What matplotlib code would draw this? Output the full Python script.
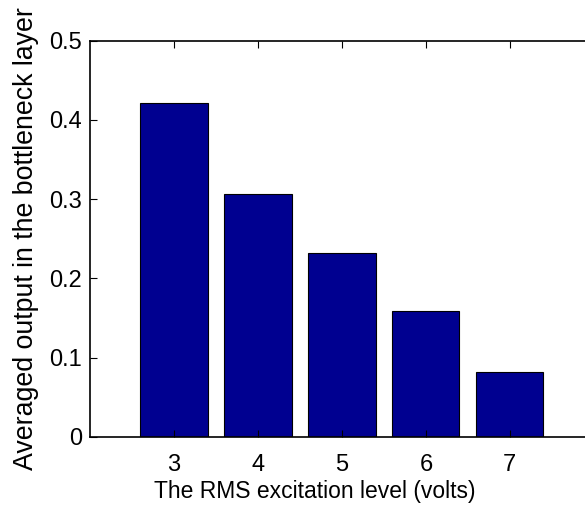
import matplotlib
matplotlib.use("Agg")
import matplotlib.pyplot as plt

levels = [3, 4, 5, 6, 7]
outputs = [0.421, 0.307, 0.232, 0.159, 0.082]
yticks = [0, 0.1, 0.2, 0.3, 0.4, 0.5]
ytick_labels = ["0", "0.1", "0.2", "0.3", "0.4", "0.5"]

plt.rcParams["font.family"] = ["Liberation Sans", "DejaVu Sans"]

fig = plt.figure(figsize=(5.85, 5.08), dpi=100)
# the axes run a little past the right edge, as in the cropped original
ax = fig.add_axes([0.154, 0.14, 0.861, 0.78])
ax.bar(levels, outputs, width=0.8, color="#000090", edgecolor="black", linewidth=0.8)
ax.set_xlim(2, 8)
ax.set_ylim(0, 0.5)
ax.set_xticks(levels)
ax.set_yticks(yticks)
ax.set_yticklabels(ytick_labels)
ax.tick_params(direction="in", length=5, labelsize=17, top=True, right=False)
ax.tick_params(axis="x", pad=12)
ax.tick_params(axis="y", pad=6)
ax.spines["right"].set_visible(False)
for s in ax.spines.values():
    s.set_linewidth(1.2)
ax.set_xlabel("The RMS excitation level (volts)", fontsize=16.5)
ax.xaxis.set_label_coords(0.446, -0.11)
ax.set_ylabel("Averaged output in the bottleneck layer", fontsize=19.3, labelpad=7)

fig.savefig("out.png", dpi=100)
